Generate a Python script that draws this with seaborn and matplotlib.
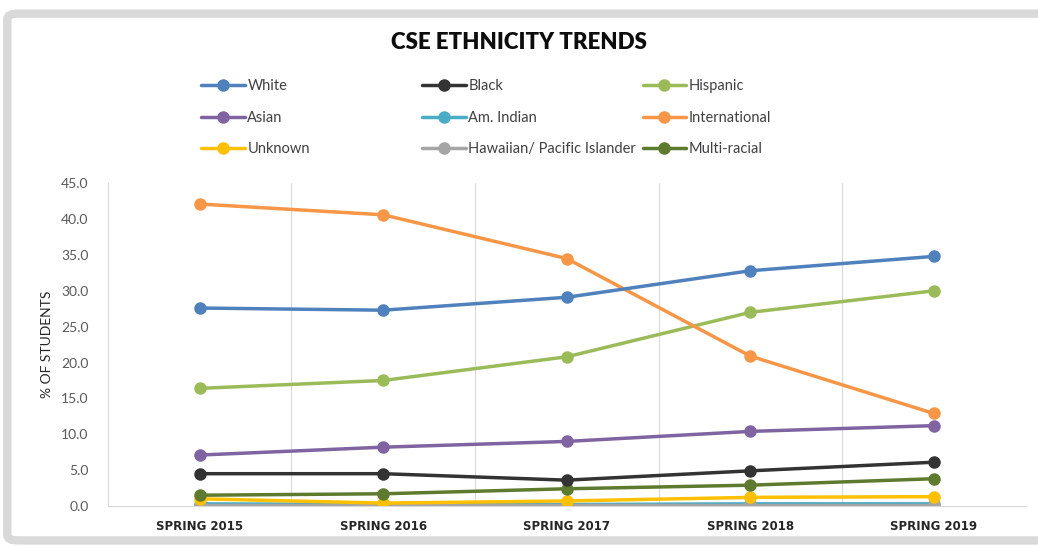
import pandas as pd
import matplotlib.pyplot as plt
import seaborn as sns
from matplotlib.lines import Line2D
from matplotlib.patches import FancyBboxPatch

# chart values
terms = ['SPRING 2015', 'SPRING 2016', 'SPRING 2017', 'SPRING 2018', 'SPRING 2019']
white = [27.6, 27.3, 29.1, 32.8, 34.8]
black = [4.5, 4.5, 3.6, 4.9, 6.1]
hispanic = [16.4, 17.5, 20.8, 27.0, 30.0]
asian = [7.1, 8.2, 9.0, 10.4, 11.2]
am_indian = [0.3, 0.2, 0.2, 0.3, 0.3]
international = [42.1, 40.6, 34.5, 20.9, 12.9]
unknown = [1.0, 0.4, 0.7, 1.2, 1.3]
hawaiian = [0.1, 0.1, 0.1, 0.1, 0.1]
multi = [1.5, 1.7, 2.4, 2.9, 3.8]

groups = ['White', 'Black', 'Hispanic', 'Asian', 'Am. Indian', 'International',
          'Unknown', 'Hawaiian/ Pacific Islander', 'Multi-racial']
colors = ['#4F81BD', '#333333', '#9BBB59', '#8064A2', '#4BACC6', '#F79646',
          '#FFC000', '#A5A5A5', '#5E7A2E']

series = [white, black, hispanic, asian, am_indian, international, unknown, hawaiian, multi]
rows = []
for g, vals in zip(groups, series):
    for t, v in zip(terms, vals):
        rows.append({'Term': t, 'Group': g, 'Pct': v})
data = pd.DataFrame(rows)

sns.set_style('white')
plt.rcParams['font.family'] = ['Lato', 'DejaVu Sans']

fig = plt.figure(figsize=(10.38, 5.47), dpi=100)
ax = fig.add_axes([0.104, 0.075, 0.884, 0.59])

# draw order so the big lines sit on top of the small ones
draw_order = ['Am. Indian', 'Hawaiian/ Pacific Islander', 'Unknown', 'Multi-racial',
              'Black', 'Asian', 'Hispanic', 'International', 'White']
pal = dict(zip(groups, colors))
for g in draw_order:
    sub = data[data['Group'] == g]
    sns.lineplot(x='Term', y='Pct', data=sub, color=pal[g], marker='o',
                 markersize=9, markeredgewidth=0, linewidth=2.5, ax=ax,
                 sort=False, legend=False)

ax.set_xlim(-0.5, 4.5)
ax.set_ylim(0, 45)
ax.set_yticks(range(0, 50, 5))
ax.set_yticklabels([f'{v:.1f}' for v in range(0, 50, 5)], color='#595959', fontsize=10)
ax.set_xticks(range(len(terms)))
ax.set_xticklabels(terms, fontsize=8.5, fontweight='bold', color='#262626',
                   family='DejaVu Sans')
ax.tick_params(axis='y', length=0, pad=14)
ax.tick_params(axis='x', length=0, pad=10)
ax.set_xlabel('')
ax.set_ylabel('% OF STUDENTS', fontsize=10, color='#262626', labelpad=6)

# vertical gridlines between categories
for x in [0.5, 1.5, 2.5, 3.5]:
    ax.axvline(x, color='#D9D9D9', linewidth=0.8, zorder=0)
for side in ['top', 'right']:
    ax.spines[side].set_visible(False)
ax.spines['left'].set_color('#D9D9D9')
ax.spines['bottom'].set_color('#D9D9D9')

fig.text(0.5, 0.922, 'CSE ETHNICITY TRENDS', ha='center', va='center',
         fontsize=16, fontweight='heavy', color='#0D0D0D')

# legend in three columns at fixed positions
col_x = [0.194, 0.407, 0.619]
cols = [[0, 3, 6], [1, 4, 7], [2, 5, 8]]
for cx, idx in zip(col_x, cols):
    handles = [Line2D([0], [0], color=colors[i], marker='o', markersize=8,
                      linewidth=2.5) for i in idx]
    fig.legend(handles, [groups[i] for i in idx], loc='upper left',
               bbox_to_anchor=(cx, 0.855), frameon=False, fontsize=10.5,
               handlelength=3, handletextpad=0.15, labelspacing=1.2,
               labelcolor='#404040', borderaxespad=0, borderpad=0)

# outer chart border
fig.patches.append(FancyBboxPatch((0.007, 0.012), 1.1, 0.963,
                                  boxstyle='round,pad=0,rounding_size=0.01',
                                  transform=fig.transFigure, fill=False,
                                  edgecolor='#D9D9D9', linewidth=6))

fig.savefig('out.png', dpi=100)
